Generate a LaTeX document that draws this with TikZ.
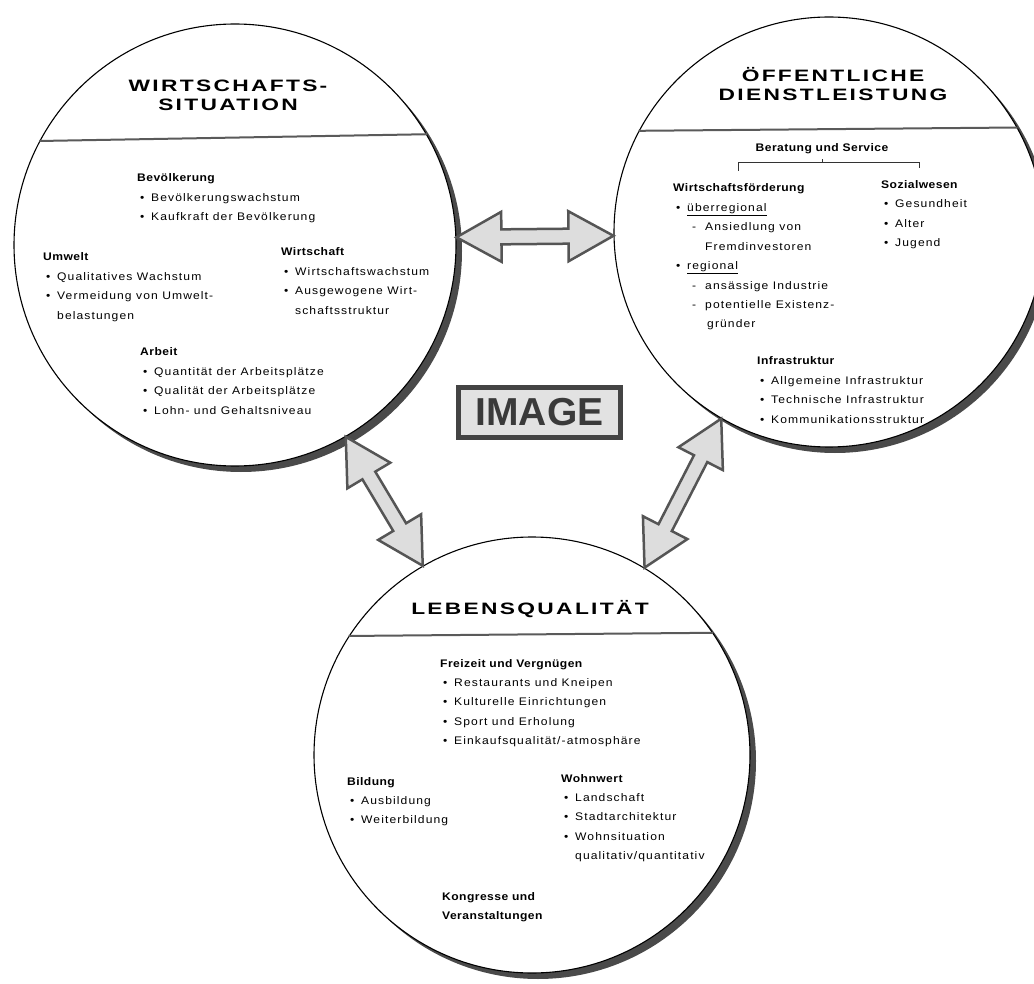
\documentclass[tikz,border=0pt]{standalone}
\usepackage{fontspec}
\setmainfont{Liberation Sans}
\newfontfamily\titlefont[FakeStretch=1.38,LetterSpace=14]{Liberation Sans}
\newfontfamily\headfont[FakeStretch=1.1,LetterSpace=4]{Liberation Sans}
\newfontfamily\bodyfont[FakeStretch=1.1,LetterSpace=10]{Liberation Sans}
\usepackage{tikz}
\usetikzlibrary{calc,positioning,shadows}
\definecolor{rimShadow}{HTML}{4A4A4A}
\definecolor{ruleGray}{HTML}{5A5A5A}
\definecolor{arrowFill}{HTML}{DDDDDD}
\definecolor{arrowLine}{HTML}{555555}
\definecolor{imageFill}{HTML}{E2E2E2}
\definecolor{imageLine}{HTML}{444444}
\definecolor{imageText}{HTML}{3A3A3A}

\newcommand{\blockhead}[1]{{\headfont\bfseries #1}}
\newcommand{\itm}{\hspace*{3pt}\makebox[11pt][l]{\textbullet}}
\newcommand{\dsh}{\hspace*{19pt}\makebox[13pt][l]{-}}
\newcommand{\linkarrow}[2]{%
  \draw[linkarrow] let \p1=(#1), \p2=(#2),
      \n1={atan2(\y2-\y1,\x2-\x1)}, \n2={veclen(\x2-\x1,\y2-\y1)} in
    [shift={(\p1)},rotate=\n1]
    (0,0) -- (45,25) -- (45,7.5) -- (\n2-45,7.5) -- (\n2-45,25) -- (\n2,0)
    -- (\n2-45,-25) -- (\n2-45,-7.5) -- (45,-7.5) -- (45,-25) -- cycle;}

\begin{document}
\begin{tikzpicture}[x=1pt,y=-1pt,
  bubble/.style={circle,draw=black,line width=1.1pt,fill=white,inner sep=0pt,
    drop shadow={shadow xshift=6pt,shadow yshift=-6pt,fill=rimShadow,opacity=1}},
  divider/.style={draw=ruleGray,line width=2pt},
  circletitle/.style={font=\titlefont\bfseries\fontsize{16.5}{19}\selectfont,align=center,anchor=base,inner sep=0pt},
  block/.style={font=\bodyfont\fontsize{11}{19.4}\selectfont,align=left,anchor=base west,inner sep=0pt},
  subhead/.style={font=\headfont\bfseries\fontsize{11}{19.4}\selectfont,anchor=base west,inner sep=0pt},
  bracket/.style={draw=black!80,line width=.8pt},
  linkarrow/.style={draw=arrowLine,fill=arrowFill,line width=2.5pt},
  imagebox/.style={draw=imageLine,fill=imageFill,line width=4.5pt,minimum width=162pt,minimum height=50pt,
    inner sep=0pt,font=\bfseries\fontsize{39}{39}\selectfont,text=imageText}
]
  \path[use as bounding box,fill=white] (0,0) rectangle (1034,984);

  % the three circles
  \node[bubble,minimum size=442pt] (wirt) at (235,245) {};
  \node[bubble,minimum size=430pt] (dienst) at (829,232) {};
  \node[bubble,minimum size=436pt] (leben) at (532,755) {};
  \draw[divider] (wirt.152.5) -- (wirt.30);
  \draw[divider] (dienst.152) -- (dienst.29);
  \draw[divider] (leben.147.5) -- (leben.34);

  % Wirtschaftssituation (blocks sit on the baseline of their last line)
  \node[circletitle] (wtitle) at (228,111) {WIRTSCHAFTS-\\SITUATION};
  \node[block] (bev) at (137,220.8) {\blockhead{Bevölkerung}\\
    \itm Bevölkerungswachstum\\ \itm Kaufkraft der Bevölkerung};
  \node[block] (umw) at (43,319.2) {\blockhead{Umwelt}\\
    \itm Qualitatives Wachstum\\ \itm Vermeidung von Umwelt-\\ \hspace*{14pt}belastungen};
  \node[block] (wir) at (281,314.2) {\blockhead{Wirtschaft}\\
    \itm Wirtschaftswachstum\\ \itm Ausgewogene Wirt-\\ \hspace*{14pt}schaftsstruktur};
  \node[block] (arb) at (140,414.2) {\blockhead{Arbeit}\\
    \itm Quantität der Arbeitsplätze\\ \itm Qualität der Arbeitsplätze\\ \itm Lohn- und Gehaltsniveau};

  % Oeffentliche Dienstleistung
  \node[circletitle] (dtitle) at (833,101) {ÖFFENTLICHE\\DIENSTLEISTUNG};
  \node[subhead,anchor=base] (berat) at (822,152) {Beratung und Service};
  \node[subhead] (foerd) at (673,192) {Wirtschaftsförderung};
  \node[block] (foerdlist) at (673,327.9) {\itm \underline{überregional}\\
    \dsh Ansiedlung von\\ \hspace*{32pt}Fremdinvestoren\\
    \itm \underline{regional}\\ \dsh ansässige Industrie\\
    \dsh potentielle Existenz-\\ \hspace*{34pt}gründer};
  \node[subhead] (sozial) at (881,189) {Sozialwesen};
  \node[block] (soziallist) at (881,246.8) {\itm Gesundheit\\ \itm Alter\\ \itm Jugend};
  \draw[bracket] ([yshift=13pt]foerd.north) |- ([yshift=-8pt]berat.south)
    -| ([yshift=13pt]sozial.north);
  \draw[bracket] ([yshift=-8pt]berat.south) -- ([yshift=-4pt]berat.south);
  \node[block] (infra) at (757,423.2) {\blockhead{Infrastruktur}\\
    \itm Allgemeine Infrastruktur\\ \itm Technische Infrastruktur\\ \itm Kommunikationsstruktur};

  % Lebensqualitaet
  \node[circletitle] (ltitle) at (530,614) {LEBENSQUALITÄT};
  \node[block] (frei) at (440,744.6) {\blockhead{Freizeit und Vergnügen}\\
    \itm Restaurants und Kneipen\\ \itm Kulturelle Einrichtungen\\
    \itm Sport und Erholung\\ \itm Einkaufsqualität/-atmosphäre};
  \node[block] (bild) at (347,823.8) {\blockhead{Bildung}\\
    \itm Ausbildung\\ \itm Weiterbildung};
  \node[block] (wohn) at (561,859.6) {\blockhead{Wohnwert}\\
    \itm Landschaft\\ \itm Stadtarchitektur\\ \itm Wohnsituation\\ \hspace*{14pt}qualitativ/quantitativ};
  \node[block] (kongr) at (442,919.4) {\blockhead{Kongresse und}\\ \blockhead{Veranstaltungen}};

  % image in the middle and the links
  \node[imagebox] (image) at (539.5,412.5) {IMAGE};
  \linkarrow{wirt.2}{dienst.181}
  \linkarrow{wirt.-60}{leben.120}
  \linkarrow{dienst.-120}{leben.59}
\end{tikzpicture}
\end{document}
